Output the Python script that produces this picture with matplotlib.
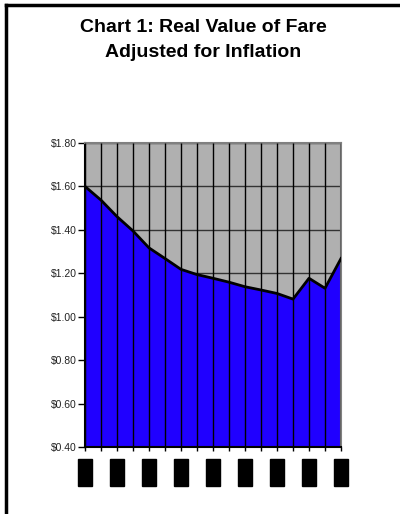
import numpy as np
import matplotlib
matplotlib.use("Agg")
import matplotlib.pyplot as plt
from matplotlib.lines import Line2D

# real fare value per period (labels redacted in the source)
fare = [1.60, 1.537, 1.461, 1.395, 1.317, 1.268, 1.218, 1.194, 1.177,
        1.159, 1.138, 1.123, 1.107, 1.081, 1.177, 1.131, 1.268]
yticks = [0.40, 0.60, 0.80, 1.00, 1.20, 1.40, 1.60, 1.80]
xlabels = ["0000" if i % 2 == 0 else "" for i in range(len(fare))]

plt.rcParams['font.family'] = ['Liberation Sans', 'DejaVu Sans']

fig = plt.figure(figsize=(4.0, 5.14), dpi=100)
ax = fig.add_axes([0.2125, 0.1304, 0.64, 0.5914])
ax.set_facecolor('#b0b0b0')

x = np.arange(len(fare))
ax.fill_between(x, 0.40, fare, color='#2000ff', zorder=2, lw=0)
ax.vlines(x, 0.40, 1.80, color='black', lw=1, zorder=3)
ax.plot(x, fare, color='black', lw=2, zorder=4, solid_joinstyle='round')

ax.set_xlim(0, len(fare) - 1)
ax.set_ylim(0.40, 1.80)
ax.set_yticks(yticks)
ax.set_yticklabels(['$%.2f' % v for v in yticks], fontsize=7.5, color='#222222')
ax.yaxis.grid(True, color='#333333', lw=1)
ax.set_axisbelow(True)

ax.set_xticks(x)
ax.set_xticklabels(xlabels, rotation=90, fontsize=7.5, color='black')
for lbl in ax.get_xticklabels():
    if lbl.get_text():
        lbl.set_bbox(dict(facecolor='black', edgecolor='black', boxstyle='square,pad=0.2'))
ax.tick_params(axis='x', length=3, pad=7, width=1)
ax.tick_params(axis='y', length=5, width=1, pad=1)

for s in ['top', 'right']:
    ax.spines[s].set_color('#808080')
    ax.spines[s].set_linewidth(1.5)
for s in ['left', 'bottom']:
    ax.spines[s].set_color('black')
    ax.spines[s].set_linewidth(1.5)

fig.text(0.5075, 0.947, "Chart 1: Real Value of Fare", ha='center', va='center',
         fontsize=14, fontweight='bold')
fig.text(0.5075, 0.897, "Adjusted for Inflation", ha='center', va='center',
         fontsize=14, fontweight='bold')

# page frame (top and left edges visible)
fig.add_artist(Line2D([0.016, 1.0], [0.990, 0.990], color='black', lw=2.5))
fig.add_artist(Line2D([0.016, 0.016], [0.0, 0.990], color='black', lw=2.5))

fig.savefig('out.png', dpi=100)
